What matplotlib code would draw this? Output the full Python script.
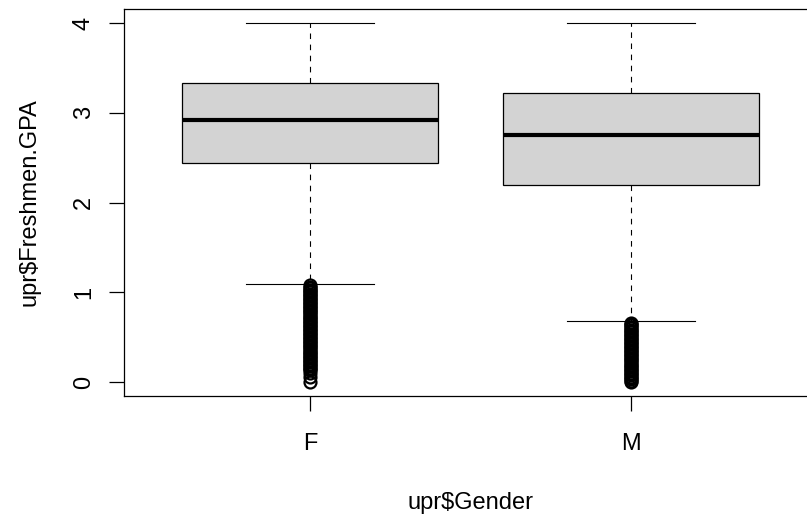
import matplotlib
matplotlib.use("Agg")
import matplotlib.pyplot as plt

plt.rcParams['font.family'] = ['Liberation Sans', 'DejaVu Sans']

# Group labels and five-number summaries of freshmen GPA by gender
genders = ["F", "M"]
q1 = [2.44, 2.20]
medians = [2.915, 2.75]
q3 = [3.335, 3.22]
whisker_low = [1.09, 0.68]
whisker_high = [4.0, 4.0]

# Low outliers below the lower whisker
outliers_f = [0.00, 0.06, 0.10, 0.13, 0.145, 0.16, 0.175, 0.19, 0.205, 0.22,
              0.235, 0.25, 0.265, 0.28, 0.295, 0.31, 0.325, 0.34, 0.355, 0.37,
              0.385, 0.40, 0.415, 0.43, 0.445, 0.46, 0.475, 0.49, 0.505, 0.52,
              0.535, 0.55, 0.565, 0.58, 0.595, 0.61, 0.625, 0.64, 0.655, 0.67,
              0.685, 0.70, 0.715, 0.73, 0.745, 0.76, 0.775, 0.79, 0.805, 0.82,
              0.835, 0.85, 0.865, 0.88, 0.895, 0.91, 0.925, 0.94, 0.955, 0.97,
              0.985, 1.00, 1.015, 1.03, 1.045, 1.06, 1.08]
outliers_m = [0.00, 0.015, 0.03, 0.045, 0.06, 0.075, 0.09, 0.105, 0.12, 0.135,
              0.15, 0.165, 0.18, 0.195, 0.21, 0.225, 0.24, 0.255, 0.27, 0.285,
              0.30, 0.315, 0.33, 0.345, 0.36, 0.375, 0.39, 0.405, 0.42, 0.435,
              0.45, 0.465, 0.48, 0.495, 0.51, 0.525, 0.54, 0.555, 0.57, 0.585,
              0.60, 0.615, 0.63, 0.645, 0.66]
outliers = [outliers_f, outliers_m]

y_ticks = [0, 1, 2, 3, 4]

W, H, DPI = 807, 517, 100
fig = plt.figure(figsize=(W / DPI, H / DPI), dpi=DPI)
# plot region (right edge runs past the figure border)
left_px, right_px, top_px, bottom_px = 124, 817, 8.6, 396.4
ax = fig.add_axes([left_px / W, 1 - bottom_px / H,
                   (right_px - left_px) / W, (bottom_px - top_px) / H])

stats = []
for i, g in enumerate(genders):
    stats.append(dict(label=g, q1=q1[i], med=medians[i], q3=q3[i],
                      whislo=whisker_low[i], whishi=whisker_high[i],
                      fliers=outliers[i]))

positions = [1, 2]
ax.bxp(stats, positions=positions, widths=0.8, patch_artist=True,
       showfliers=True,
       boxprops=dict(facecolor="#D3D3D3", edgecolor="black", linewidth=0.9),
       medianprops=dict(color="black", linewidth=3.0, solid_capstyle="butt"),
       whiskerprops=dict(color="black", linewidth=0.8, linestyle=(0, (5, 5))),
       capprops=dict(color="black", linewidth=0.8),
       capwidths=0.4,
       flierprops=dict(marker="o", markersize=8.6, markerfacecolor="none",
                       markeredgecolor="black", markeredgewidth=1.6,
                       linestyle="none"))

ax.set_xlim(0.42, 2.58)
ax.set_ylim(-0.16, 4.16)
ax.set_xticks(positions)
ax.set_xticklabels(genders)
ax.set_yticks(y_ticks)
ax.set_yticklabels([str(t) for t in y_ticks], rotation=90, va="center")

for s in ax.spines.values():
    s.set_linewidth(0.9)
    s.set_color("black")

ax.tick_params(axis="both", direction="out", length=11, width=0.9,
               labelsize=17, color="black")
ax.tick_params(axis="x", pad=15)
ax.tick_params(axis="y", pad=10)

ax.set_xlabel("upr$Gender", fontsize=17, labelpad=27)
ax.set_ylabel("upr$Freshmen.GPA", fontsize=17, labelpad=23)

fig.savefig("out.png", dpi=DPI)
